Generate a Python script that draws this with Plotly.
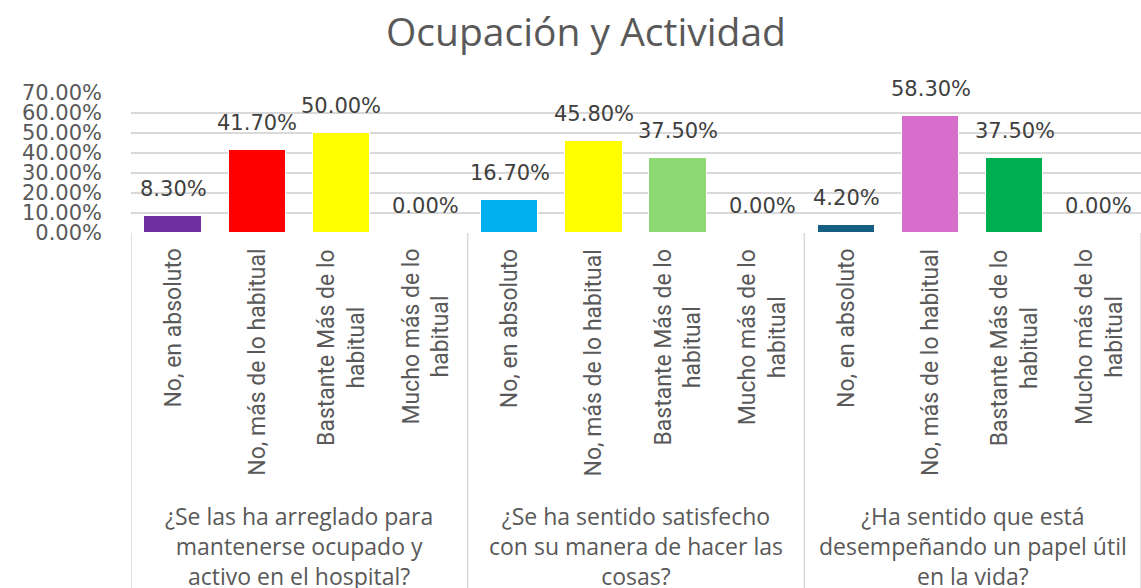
import plotly.graph_objects as go

# ---- data ----
questions = [
    "¿Se las ha arreglado para<br>mantenerse ocupado y<br>activo en el hospital?",
    "¿Se ha sentido satisfecho<br>con su manera de hacer las<br>cosas?",
    "¿Ha sentido que está<br>desempeñando un papel útil<br>en la vida?",
]
responses = [
    "No, en absoluto",
    "No, más de lo habitual",
    "Bastante Más de lo<br>habitual",
    "Mucho más de lo<br>habitual",
]
values_q1 = [0.083, 0.417, 0.500, 0.000]
values_q2 = [0.167, 0.458, 0.375, 0.000]
values_q3 = [0.042, 0.583, 0.375, 0.000]
colors_q1 = ["#7030A0", "#FF0000", "#FFFF00", "#FFFF00"]
colors_q2 = ["#00B0F0", "#FFFF00", "#8ED973", "#8ED973"]
colors_q3 = ["#156082", "#D86ECC", "#00B050", "#00B050"]
y_ticks = [0, 0.1, 0.2, 0.3, 0.4, 0.5, 0.6, 0.7]

all_values = [values_q1, values_q2, values_q3]
all_colors = [colors_q1, colors_q2, colors_q3]
n_resp = len(responses)

xs, ys, cs = [], [], []
for g, (vals, cols) in enumerate(zip(all_values, all_colors)):
    for i, (v, c) in enumerate(zip(vals, cols)):
        xs.append(g * n_resp + i)
        ys.append(v)
        cs.append(c)

fig = go.Figure()
fig.add_trace(go.Bar(
    x=xs, y=ys, width=0.68,
    marker=dict(color=cs, line=dict(color="white", width=1)),
    hoverinfo="skip", showlegend=False,
))

GRID = "#d9d9d9"
annotations = []
# data labels
for x, v in zip(xs, ys):
    annotations.append(dict(
        x=x, y=v, xref="x", yref="y", text=f"{v:.2%}", showarrow=False,
        yanchor="middle", yshift=27,
        font=dict(family="DejaVu Sans", size=21, color="#404040"),
    ))
# category labels (rotated)
for x in xs:
    annotations.append(dict(
        x=x, y=0, xref="x", yref="paper", text=responses[x % n_resp], showarrow=False,
        textangle=-90, yanchor="top", xanchor="center", yshift=-14, align="center",
        font=dict(family="Roboto", size=23, color="#595959"),
    ))
# group labels
plot_h = 140
for g, q in enumerate(questions):
    annotations.append(dict(
        x=g * n_resp + (n_resp - 1) / 2, y=-(546 - 233) / plot_h,
        xref="x", yref="paper", text=q, showarrow=False,
        yanchor="middle", xanchor="center",
        font=dict(family="Open Sans", size=23, color="#595959"),
    ))

shapes = []
for g in range(len(questions) + 1):
    xb = g * n_resp - 0.5
    shapes.append(dict(
        type="line", xref="x", yref="paper", x0=xb, x1=xb, y0=0,
        y1=-(600 - 233) / plot_h, line=dict(color=GRID, width=1.5),
    ))

fig.update_layout(
    width=1141, height=588,
    margin=dict(l=131, r=0, t=93, b=355, autoexpand=False),
    paper_bgcolor="white", plot_bgcolor="white",
    title=dict(
        text="Ocupación y Actividad", x=586 / 1141, xref="container", xanchor="center",
        y=1 - 32 / 588, yanchor="middle", automargin=False,
        font=dict(family="Open Sans", size=39, color="#595959"),
    ),
    xaxis=dict(range=[-0.5, len(xs) - 0.5], showticklabels=False, showgrid=False,
               zeroline=False, showline=False, fixedrange=True, automargin=False),
    yaxis=dict(range=[0, 0.7], tickvals=y_ticks, tickformat=".2%",
               showgrid=True, gridcolor=GRID, gridwidth=1.5, zeroline=False,
               showline=False, ticklabelstandoff=28, automargin=False,
               tickfont=dict(family="DejaVu Sans", size=21, color="#595959")),
    annotations=annotations,
    shapes=shapes,
    bargap=0,
)

fig.write_html("out.html", config={"displayModeBar": False},
               post_script="document.body.style.margin='0';")
